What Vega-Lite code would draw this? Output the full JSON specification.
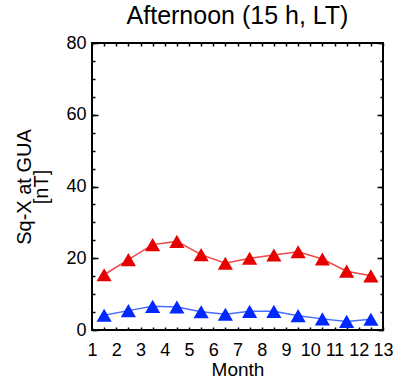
{
  "$schema": "https://vega.github.io/schema/vega-lite/v6.json",
  "width": 291,
  "height": 287,
  "autosize": {"type": "none"},
  "padding": {"left": 92, "top": 43, "right": 13, "bottom": 49},
  "title": {"text": "Afternoon (15 h, LT)", "fontSize": 25, "font": "Liberation Sans", "fontWeight": "normal", "color": "black", "offset": 5},
  "data": {"values": [
    {"month": 1.5, "value": 15.4, "series": "red"},
    {"month": 2.5, "value": 19.6, "series": "red"},
    {"month": 3.5, "value": 23.8, "series": "red"},
    {"month": 4.5, "value": 24.7, "series": "red"},
    {"month": 5.5, "value": 21.0, "series": "red"},
    {"month": 6.5, "value": 18.6, "series": "red"},
    {"month": 7.5, "value": 20.0, "series": "red"},
    {"month": 8.5, "value": 20.9, "series": "red"},
    {"month": 9.5, "value": 21.8, "series": "red"},
    {"month": 10.5, "value": 19.8, "series": "red"},
    {"month": 11.5, "value": 16.4, "series": "red"},
    {"month": 12.5, "value": 15.1, "series": "red"},
    {"month": 1.5, "value": 4.1, "series": "blue"},
    {"month": 2.5, "value": 5.4, "series": "blue"},
    {"month": 3.5, "value": 6.6, "series": "blue"},
    {"month": 4.5, "value": 6.4, "series": "blue"},
    {"month": 5.5, "value": 5.1, "series": "blue"},
    {"month": 6.5, "value": 4.4, "series": "blue"},
    {"month": 7.5, "value": 5.2, "series": "blue"},
    {"month": 8.5, "value": 5.2, "series": "blue"},
    {"month": 9.5, "value": 4.0, "series": "blue"},
    {"month": 10.5, "value": 3.1, "series": "blue"},
    {"month": 11.5, "value": 2.4, "series": "blue"},
    {"month": 12.5, "value": 3.0, "series": "blue"}
  ]},
  "config": {
    "view": {"stroke": "black", "strokeWidth": 2},
    "axis": {"domain": false, "grid": false, "tickColor": "black", "labelColor": "black", "labelFont": "Liberation Sans", "titleFont": "Liberation Sans", "titleColor": "black", "labelFontSize": 18, "titleFontSize": 19, "titleFontWeight": "normal", "tickWidth": 1.5, "labelOverlap": false, "labelFlush": false}
  },
  "layer": [
    {
      "transform": [{"filter": "datum.series == 'red'"}],
      "mark": {"type": "line", "color": "#f04848", "strokeWidth": 1.5},
      "encoding": {
        "x": {"field": "month", "type": "quantitative", "scale": {"domain": [1, 13], "nice": false, "zero": false},
              "axis": {"orient": "bottom", "values": [1,1.5,2,2.5,3,3.5,4,4.5,5,5.5,6,6.5,7,7.5,8,8.5,9,9.5,10,10.5,11,11.5,12,12.5,13], "tickSize": -3, "labelExpr": "datum.value % 1 == 0 ? format(datum.value, 'd') : ''", "labelPadding": 14, "title": "Month", "titlePadding": 1}},
        "y": {"field": "value", "type": "quantitative", "scale": {"domain": [0, 80], "nice": false},
              "axis": {"orient": "left", "values": [0, 20, 40, 60, 80], "tickSize": -6, "labelPadding": 12, "title": ["Sq-X at GUA", "[nT]"], "titleFontSize": 20, "titlePadding": 14, "titleLineHeight": 17}}
      }
    },
    {
      "transform": [{"filter": "datum.series == 'red'"}],
      "mark": {"type": "point", "shape": "triangle-up", "filled": true, "size": 230, "color": "#e60000", "opacity": 1},
      "encoding": {
        "x": {"field": "month", "type": "quantitative", "scale": {"domain": [1, 13], "nice": false, "zero": false}, "axis": null},
        "y": {"field": "value", "type": "quantitative", "scale": {"domain": [0, 80], "nice": false},
              "axis": {"orient": "right", "values": [0,5,10,15,20,25,30,35,40,45,50,55,60,65,70,75,80], "tickSize": -3, "labels": false, "title": null}}
      }
    },
    {
      "transform": [{"filter": "datum.series == 'blue'"}],
      "mark": {"type": "line", "color": "#4a6cff", "strokeWidth": 1.5},
      "encoding": {
        "x": {"field": "month", "type": "quantitative", "scale": {"domain": [1, 13], "nice": false, "zero": false},
              "axis": {"orient": "top", "values": [1,1.5,2,2.5,3,3.5,4,4.5,5,5.5,6,6.5,7,7.5,8,8.5,9,9.5,10,10.5,11,11.5,12,12.5,13], "tickSize": -3, "labels": false, "title": null}},
        "y": {"field": "value", "type": "quantitative", "scale": {"domain": [0, 80], "nice": false},
              "axis": {"orient": "left", "values": [0,5,10,15,20,25,30,35,40,45,50,55,60,65,70,75,80], "tickSize": -3, "labels": false, "title": null}}
      }
    },
    {
      "transform": [{"filter": "datum.series == 'blue'"}],
      "mark": {"type": "point", "shape": "triangle-up", "filled": true, "size": 230, "color": "#0028ff", "opacity": 1},
      "encoding": {
        "x": {"field": "month", "type": "quantitative", "scale": {"domain": [1, 13], "nice": false, "zero": false}, "axis": null},
        "y": {"field": "value", "type": "quantitative", "scale": {"domain": [0, 80], "nice": false},
              "axis": {"orient": "right", "values": [0, 20, 40, 60, 80], "tickSize": -6, "labels": false, "title": null}}
      }
    }
  ],
  "resolve": {"scale": {"x": "independent", "y": "independent"}, "axis": {"x": "independent", "y": "independent"}}
}
